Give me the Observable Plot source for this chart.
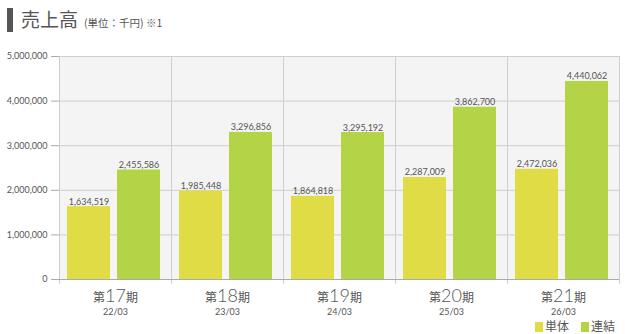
<!DOCTYPE html>
<html>
<head>
<meta charset="utf-8">
<script src="https://cdn.jsdelivr.net/npm/d3@7"></script>
<script src="https://cdn.jsdelivr.net/npm/@observablehq/plot@0.6"></script>
<style>
  html, body { margin: 0; padding: 0; background: #fff; width: 625px; height: 334px; overflow: hidden; }
  #wrap { position: relative; width: 625px; height: 334px; font-family: "Noto Sans CJK JP", sans-serif; color: #555; }
  #titlebar { position: absolute; left: 7px; top: 8px; width: 6px; height: 24px; background: #555; }
  #title { position: absolute; left: 21px; top: 5px; font-size: 19px; line-height: 28px; color: #555; white-space: nowrap; }
  #title small { font-size: 10.5px; margin-left: 6px; }
  #chart { position: absolute; left: 0; top: 40px; }
  #legend { position: absolute; left: 535px; top: 318px; font-size: 12px; line-height: 16px; white-space: nowrap; }
  #legend span.sw { display: inline-block; width: 8px; height: 10px; vertical-align: -1px; margin-right: 2px; }
  #legend span.item { margin-right: 12px; }
</style>
</head>
<body>
<div id="wrap">
  <div id="titlebar"></div>
  <div id="title">売上高<small>(単位：千円) ※1</small></div>
  <div id="chart"></div>
  <div id="legend"></div>
</div>
<script>
const periods = ["第17期", "第18期", "第19期", "第20期", "第21期"];
const dates = ["22/03", "23/03", "24/03", "25/03", "26/03"];
const seriesNames = ["単体", "連結"];
const seriesColors = ["#e0dc45", "#b3d447"];
const tantai = [1634519, 1985448, 1864818, 2287009, 2472036];
const renketsu = [2455586, 3296856, 3295192, 3862700, 4440062];
const yTicks = [0, 1000000, 2000000, 3000000, 4000000, 5000000];

const data = periods.flatMap((p, i) => [
  { period: p, series: seriesNames[0], value: tantai[i] },
  { period: p, series: seriesNames[1], value: renketsu[i] }
]);
const periodData = periods.map((p, i) => ({ period: p, date: dates[i] }));
const fmt = d3.format(",");

const plot = Plot.plot({
  width: 625,
  height: 282,
  marginLeft: 58,
  marginRight: 6,
  marginTop: 16,
  marginBottom: 43,
  style: { background: "transparent", fontFamily: "Lato, sans-serif", fontSize: "9px", color: "#555", overflow: "visible" },
  fx: { domain: periods, padding: 0, axis: null, label: null },
  x: { domain: seriesNames, paddingInner: 0.14, paddingOuter: 0.17, axis: null, label: null },
  y: { domain: [0, 5000000], axis: null, label: null },
  color: { domain: seriesNames, range: seriesColors },
  marks: [
    Plot.frame({ fill: "#f4f4f4" }),
    Plot.gridY(yTicks, { stroke: "#cfcfcf", strokeOpacity: 1 }),
    Plot.frame({ anchor: "left", stroke: "#cfcfcf", insetBottom: -4 }),
    Plot.frame({ anchor: "right", stroke: "#cfcfcf", insetBottom: -4 }),
    Plot.barY(data, { fx: "period", x: "series", y: "value", fill: "series", dx: -2 }),
    Plot.text(data, {
      fx: "period", x: "series", y: "value", dx: -2,
      text: d => fmt(d.value), lineAnchor: "bottom", dy: -2,
      fill: "#555", fontSize: 9, letterSpacing: "0.3px"
    }),
    Plot.ruleY([0], { stroke: "#aaa" }),
    Plot.axisY(yTicks, {
      anchor: "left", tickFormat: fmt, tickSize: 8, tickPadding: 4,
      stroke: "#aaa", fill: "#555", fontSize: 9, label: null
    }),
    Plot.text(periodData, {
      fx: "period", frameAnchor: "bottom", text: "period",
      lineAnchor: "bottom", dy: 22, fill: "#555", fontSize: 17,
      className: "period-label"
    }),
    Plot.text(periodData, {
      fx: "period", frameAnchor: "bottom", text: "date",
      lineAnchor: "bottom", dy: 35, fill: "#555", fontSize: 9, letterSpacing: "0.5px"
    })
  ]
});

d3.select(plot).selectAll(".period-label text").each(function () {
  const t = this.textContent;
  const m = t.match(/^(\D+)(\d+)(\D+)$/);
  if (!m) return;
  const el = d3.select(this);
  el.text(null);
  el.append("tspan").attr("font-size", 12).attr("font-family", "'Noto Sans CJK JP', sans-serif").text(m[1]);
  el.append("tspan").attr("font-size", 18).attr("font-weight", 300).attr("font-family", "Lato, sans-serif").text(m[2]);
  el.append("tspan").attr("font-size", 12).attr("font-family", "'Noto Sans CJK JP', sans-serif").text(m[3]);
});

document.getElementById("chart").appendChild(plot);

const legend = document.getElementById("legend");
seriesNames.forEach((s, i) => {
  const item = document.createElement("span");
  item.className = "item";
  const sw = document.createElement("span");
  sw.className = "sw";
  sw.style.background = seriesColors[i];
  item.appendChild(sw);
  item.appendChild(document.createTextNode(s));
  legend.appendChild(item);
});
</script>
</body>
</html>
